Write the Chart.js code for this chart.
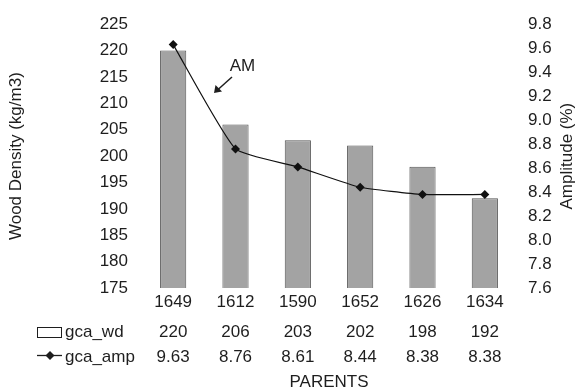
<!DOCTYPE html>
<html>
<head>
<meta charset="utf-8">
<script src="https://cdn.jsdelivr.net/npm/chart.js@4"></script>
<style>
  html, body { margin: 0; padding: 0; background: #fff; }
  canvas { display: block; }
</style>
</head>
<body>
<canvas id="c" width="577" height="388"></canvas>
<script>
// Parents tested and their general combining ability values
const parents = ["1649", "1612", "1590", "1652", "1626", "1634"];
const gcaWd = [220, 206, 203, 202, 198, 192];          // wood density, kg/m3
const gcaAmp = [9.63, 8.76, 8.61, 8.44, 8.38, 8.38];   // amplitude, %
const densityTicks = { min: 175, max: 225, step: 5 };
const ampTicks = { min: 7.6, max: 9.8, step: 0.2 };

const FONT = "'Liberation Sans', Arial, Helvetica, sans-serif";
const INK = "#1e1e1e";

// Data table under the axis, axis titles and the "AM" call-out
const extras = {
  id: "extras",
  afterDraw(chart) {
    const ctx = chart.ctx;
    const x = chart.scales.x;
    ctx.save();
    ctx.fillStyle = INK;
    ctx.strokeStyle = INK;
    ctx.font = "17px " + FONT;
    ctx.textBaseline = "alphabetic";

    // table values, one column per parent
    ctx.textAlign = "center";
    parents.forEach((p, i) => {
      const cx = x.getPixelForValue(i);
      ctx.fillText(String(gcaWd[i]), cx, 337);
      ctx.fillText(gcaAmp[i].toFixed(2), cx, 362);
    });

    // row keys
    ctx.textAlign = "left";
    ctx.fillText("gca_wd", 65, 337);
    ctx.fillText("gca_amp", 65, 362);
    ctx.lineWidth = 1;
    ctx.fillStyle = "#fff";
    ctx.fillRect(37.5, 327.5, 24, 10);
    ctx.strokeRect(37.5, 327.5, 24, 10);
    ctx.fillStyle = INK;
    ctx.beginPath();
    ctx.moveTo(37, 355.5);
    ctx.lineTo(62, 355.5);
    ctx.lineWidth = 1.3;
    ctx.stroke();
    ctx.beginPath();
    ctx.moveTo(50, 351);
    ctx.lineTo(54.5, 355.5);
    ctx.lineTo(50, 360);
    ctx.lineTo(45.5, 355.5);
    ctx.closePath();
    ctx.fill();

    // category axis title
    ctx.textAlign = "center";
    ctx.fillText("PARENTS", (chart.chartArea.left + chart.chartArea.right) / 2, 387);

    // vertical axis titles
    const midY = (chart.chartArea.top + chart.chartArea.bottom) / 2;
    ctx.textBaseline = "middle";
    ctx.save();
    ctx.translate(16, midY);
    ctx.rotate(-Math.PI / 2);
    ctx.fillText("Wood Density (kg/m3)", 0, 0);
    ctx.restore();
    ctx.save();
    ctx.translate(567, midY);
    ctx.rotate(-Math.PI / 2);
    ctx.fillText("Amplitude (%)", 0, 0);
    ctx.restore();

    // AM label with arrow
    ctx.textBaseline = "alphabetic";
    ctx.fillText("AM", 242.5, 71);
    ctx.lineWidth = 1.5;
    ctx.beginPath();
    ctx.moveTo(232, 77);
    ctx.lineTo(218, 89.5);
    ctx.stroke();
    ctx.beginPath();
    ctx.moveTo(214, 93);
    ctx.lineTo(215.5, 85);
    ctx.lineTo(222, 91.5);
    ctx.closePath();
    ctx.fill();
    ctx.restore();
  }
};

new Chart(document.getElementById("c"), {
  type: "bar",
  data: {
    labels: parents,
    datasets: [
      {
        type: "line",
        label: "gca_amp",
        data: gcaAmp,
        yAxisID: "yR",
        borderColor: "#111",
        borderWidth: 1.2,
        pointStyle: "rectRot",
        pointRadius: 4.5,
        pointBackgroundColor: "#111",
        pointBorderColor: "#111",
        pointBorderWidth: 0,
        tension: 0.15,
        order: 0
      },
      {
        type: "bar",
        label: "gca_wd",
        data: gcaWd,
        yAxisID: "yL",
        backgroundColor: "#a3a3a3",
        borderColor: "#555",
        borderWidth: 1,
        barPercentage: 0.42,
        categoryPercentage: 1,
        order: 1
      }
    ]
  },
  options: {
    responsive: false,
    devicePixelRatio: 1,
    animation: false,
    layout: { padding: { top: 21, left: 0, right: 0, bottom: 0 } },
    plugins: { legend: { display: false }, tooltip: { enabled: false } },
    scales: {
      x: {
        grid: { display: false, drawTicks: false },
        border: { display: false },
        ticks: { color: INK, font: { family: FONT, size: 17 }, padding: 4, maxRotation: 0 },
        afterFit(s) { s.height = 100; }
      },
      yL: {
        position: "left",
        min: densityTicks.min,
        max: densityTicks.max,
        grid: { display: false, drawTicks: false },
        border: { display: false },
        ticks: { stepSize: densityTicks.step, color: INK, font: { family: FONT, size: 17 }, padding: 14 },
        afterFit(s) { s.width = 142; }
      },
      yR: {
        position: "right",
        min: ampTicks.min,
        max: ampTicks.max,
        grid: { display: false, drawTicks: false },
        border: { display: false },
        ticks: {
          stepSize: ampTicks.step,
          color: INK,
          font: { family: FONT, size: 17 },
          padding: 12,
          callback: v => Number(v).toFixed(1)
        },
        afterFit(s) { s.width = 61; }
      }
    }
  },
  plugins: [extras]
});
</script>
</body>
</html>
